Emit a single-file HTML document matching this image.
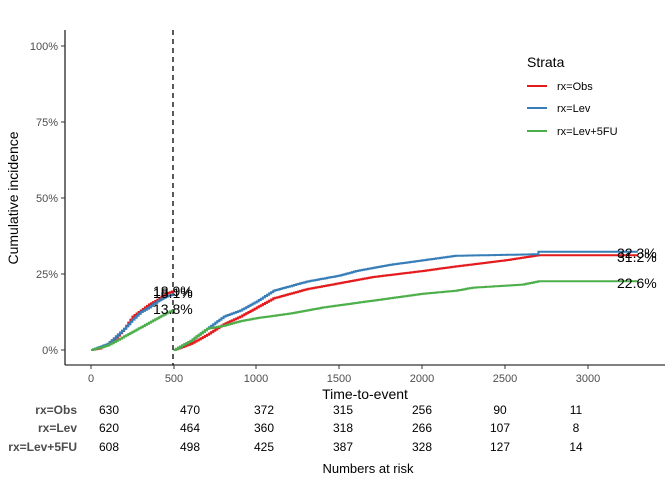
<!DOCTYPE html><html><head><style>body{margin:0;background:#fff}svg{font-family:"Liberation Sans",sans-serif}</style></head><body>
<svg width="672" height="480" xmlns="http://www.w3.org/2000/svg">
<g stroke="#000" stroke-width="1.1"><line x1="65" y1="30" x2="65" y2="365"/><line x1="65" y1="365" x2="665" y2="365"/></g>
<g stroke="#333"><line x1="61" y1="46" x2="65" y2="46"/><line x1="61" y1="122" x2="65" y2="122"/><line x1="61" y1="198" x2="65" y2="198"/><line x1="61" y1="274" x2="65" y2="274"/><line x1="61" y1="350" x2="65" y2="350"/>
<line x1="91" y1="365" x2="91" y2="369"/><line x1="174" y1="365" x2="174" y2="369"/><line x1="256" y1="365" x2="256" y2="369"/><line x1="339" y1="365" x2="339" y2="369"/><line x1="422" y1="365" x2="422" y2="369"/><line x1="505" y1="365" x2="505" y2="369"/><line x1="588" y1="365" x2="588" y2="369"/></g>
<g font-size="11" fill="#4d4d4d" text-anchor="end"><text x="58" y="50">100%</text><text x="58" y="126">75%</text><text x="58" y="202">50%</text><text x="58" y="278">25%</text><text x="58" y="354">0%</text></g>
<g font-size="11" fill="#4d4d4d" text-anchor="middle"><text x="91" y="382">0</text><text x="174" y="382">500</text><text x="256" y="382">1000</text><text x="339" y="382">1500</text><text x="422" y="382">2000</text><text x="505" y="382">2500</text><text x="588" y="382">3000</text></g>
<text x="365" y="399" font-size="14" text-anchor="middle">Time-to-event</text>
<text transform="translate(18,198) rotate(-90)" font-size="14" text-anchor="middle">Cumulative incidence</text>
<line x1="173" y1="30" x2="173" y2="365" stroke="#000" stroke-width="1.3" stroke-dasharray="5,4"/>
<g id="curves" fill="none" stroke-width="2"></g>
<g font-size="14" fill="#000"><text x="153" y="296">18.9%</text><text x="153" y="298">18.1%</text><text x="153" y="314">13.8%</text>
<text x="617" y="258">32.3%</text><text x="617" y="262">31.2%</text><text x="617" y="288">22.6%</text></g>
<text x="527" y="67" font-size="14">Strata</text>
<g stroke-width="2"><line x1="527" y1="86" x2="547" y2="86" stroke="#e41a1c"/><line x1="527" y1="108" x2="547" y2="108" stroke="#377eb8"/><line x1="527" y1="131" x2="547" y2="131" stroke="#4daf4a"/></g>
<g font-size="11"><text x="557" y="90">rx=Obs</text><text x="557" y="112">rx=Lev</text><text x="557" y="135">rx=Lev+5FU</text></g>
<g font-size="12" font-weight="bold" fill="#4d4d4d" text-anchor="end"><text x="77" y="414">rx=Obs</text><text x="77" y="432">rx=Lev</text><text x="77" y="451">rx=Lev+5FU</text></g>
<g font-size="12" text-anchor="middle">
<text x="109" y="414">630</text><text x="190" y="414">470</text><text x="264" y="414">372</text><text x="343" y="414">315</text><text x="422" y="414">256</text><text x="500" y="414">90</text><text x="576" y="414">11</text>
<text x="109" y="432">620</text><text x="190" y="432">464</text><text x="264" y="432">360</text><text x="343" y="432">318</text><text x="422" y="432">266</text><text x="500" y="432">107</text><text x="576" y="432">8</text>
<text x="109" y="451">608</text><text x="190" y="451">498</text><text x="264" y="451">425</text><text x="343" y="451">387</text><text x="422" y="451">328</text><text x="500" y="451">127</text><text x="576" y="451">14</text></g>
<text x="368" y="473" font-size="13" text-anchor="middle">Numbers at risk</text>
</svg>
<script>
var X=t=>91+t*0.1657,Y=p=>350-p*3.04;
var S={"#e41a1c":[[[0,0],[50,0.5],[100,2],[150,4],[200,7],[250,11],[300,13],[350,15],[400,16.5],[450,18.5],[500,19.5]],[[500,0],[600,2],[700,5],[800,8.5],[900,11],[1000,14],[1100,17],[1200,18.5],[1300,20],[1500,22],[1700,24],[2000,26],[2200,27.5],[2500,29.5],[2700,31.2],[3300,31.2]]],
"#377eb8":[[[0,0],[50,1],[100,2],[150,4.5],[200,7],[250,10],[300,12.5],[350,14],[400,16],[450,17.5],[500,18.5]],[[500,0],[600,3],[700,7],[800,11],[900,13],[1000,16],[1100,19.5],[1200,21],[1300,22.5],[1400,23.5],[1500,24.5],[1600,26],[1800,28],[2000,29.5],[2200,31],[2700,31.5],[2700,32.3],[3300,32.3]]],
"#4daf4a":[[[0,0],[50,0.7],[100,1.5],[150,3],[200,4.5],[250,6],[300,7.5],[350,9],[400,10.5],[450,12],[500,13.3]],[[500,0],[600,3],[700,7],[800,8],[900,9.5],[1000,10.5],[1200,12],[1300,13],[1400,14],[1600,15.5],[1800,17],[2000,18.5],[2200,19.5],[2300,20.5],[2600,21.5],[2700,22.6],[3300,22.6]]]};
var g=document.getElementById("curves");
for(var c in S)S[c].forEach(function(a){var d="M"+X(a[0][0])+","+Y(a[0][1]);for(var i=1;i<a.length;i++){var n=Math.max(1,Math.round((a[i][0]-a[i-1][0])/12));for(var k=1;k<=n;k++){var t=a[i-1][0]+(a[i][0]-a[i-1][0])*k/n,p=a[i-1][1]+(a[i][1]-a[i-1][1])*k/n;d+="H"+X(t).toFixed(1)+"V"+Y(p).toFixed(1);}}
var e=document.createElementNS("http://www.w3.org/2000/svg","path");e.setAttribute("d",d);e.setAttribute("stroke",c);g.appendChild(e);});
</script>
</body></html>
